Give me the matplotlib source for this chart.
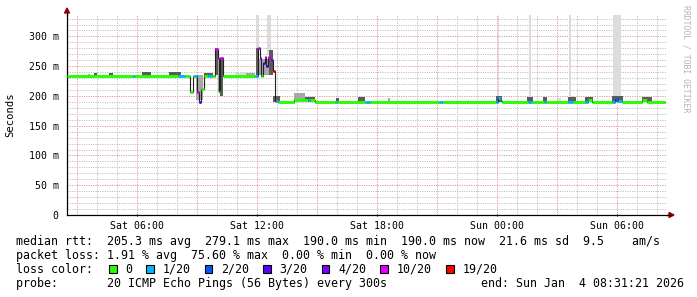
import matplotlib
matplotlib.use("Agg")
import matplotlib.pyplot as plt
from matplotlib.patches import Rectangle, Polygon

# time axis: hours since Sat 00:00 (graph ends Sun 08:31:21)
t_start = 2.522
t_end = 32.522

# median rtt in ms: segment start (h), value, lost pings out of 20
med_t = [2.52, 5.82, 5.92, 8.07, 8.42, 8.67, 8.80, 8.87, 9.03, 9.12, 9.22, 9.35,
         9.59, 9.76, 9.92, 10.05, 10.10, 10.18, 10.32, 11.92, 12.07, 12.15, 12.23,
         12.32, 12.40, 12.48, 12.57, 12.65, 12.73, 12.82, 12.90, 12.98, 13.07,
         13.87, 14.57, 14.67, 14.92, 15.92, 16.02, 17.42, 17.67, 21.12, 21.32,
         23.97, 24.07, 24.20, 24.27, 25.57, 25.75, 26.37, 26.47, 27.57, 27.82,
         28.42, 28.57, 28.77, 29.77, 29.92, 30.08, 30.25, 31.27, 31.50]
med_v = [233, 233, 233, 233, 233, 207, 233, 233, 207, 190, 212, 233,
         233, 233, 279, 263, 206, 263, 233, 233, 280, 264, 233,
         255, 265, 250, 265, 262, 260, 242, 192, 191, 190,
         193, 193, 193, 190, 190, 190, 190, 190, 190, 190,
         190, 196, 192, 190, 190, 190, 190, 190, 190, 190,
         190, 193, 190, 190, 195, 192, 190, 193, 190]
med_loss = [0, 1, 0, 1, 0, 0, 0, 1, 10, 3, 0, 0,
            1, 0, 10, 10, 0, 10, 0, 1, 10, 4, 0,
            3, 10, 3, 10, 10, 4, 19, 10, 1, 0,
            0, 1, 0, 0, 1, 0, 1, 0, 1, 0,
            1, 1, 0, 0, 1, 0, 1, 0, 1, 0,
            1, 0, 0, 1, 2, 1, 0, 0, 0]
med_end = 32.40

# smoke (spread of the 20 pings): (from h, to h, low ms, high ms)
smoke_dark = [(3.87, 4.02, 233, 239), (4.62, 4.82, 233, 239), (5.22, 5.37, 233, 236),
              (6.27, 6.72, 233, 240), (7.62, 8.22, 233, 240), (9.37, 9.82, 233, 238),
              (9.92, 10.07, 236, 280), (10.18, 10.32, 200, 262), (11.97, 12.12, 236, 280),
              (12.62, 12.82, 236, 277), (12.82, 13.17, 190, 200), (14.40, 14.90, 190, 199),
              (15.97, 16.12, 190, 197), (17.07, 17.42, 190, 198), (23.97, 24.27, 190, 200),
              (25.52, 25.82, 190, 198), (26.32, 26.52, 190, 198), (27.57, 27.97, 190, 198),
              (28.42, 28.82, 190, 198), (29.77, 30.32, 190, 200), (31.27, 31.77, 190, 199)]
smoke_mid = [(3.57, 3.67, 233, 237), (8.97, 9.32, 193, 235), (10.07, 10.18, 206, 263),
             (11.47, 11.92, 233, 239), (12.12, 12.62, 236, 262), (13.87, 14.40, 192, 205),
             (18.57, 18.67, 190, 196)]
smoke_light = [(4.32, 4.42, 233, 237), (5.52, 5.67, 233, 236), (10.92, 11.47, 233, 238),
               (11.97, 12.12, 280, 345), (12.52, 12.72, 268, 345), (22.57, 22.62, 190, 194),
               (24.07, 24.12, 200, 345), (25.62, 25.72, 198, 345), (27.07, 27.22, 190, 196),
               (27.62, 27.72, 198, 345), (29.27, 29.32, 190, 194), (29.82, 30.22, 200, 345)]

loss_levels = [0, 1, 2, 3, 4, 10, 19]
loss_labels = ['0', '1/20', '2/20', '3/20', '4/20', '10/20', '19/20']
loss_colors = ['#26ff00', '#00b8ff', '#0059ff', '#5e00ff', '#7e00ff', '#dd00ff', '#ff0000']

x_tick_hours = [6, 12, 18, 24, 30]
x_tick_labels = ['Sat 06:00', 'Sat 12:00', 'Sat 18:00', 'Sun 00:00', 'Sun 06:00']
y_tick_vals = [0, 50, 100, 150, 200, 250, 300]
y_tick_labels = ['0', '50 m', '100 m', '150 m', '200 m', '250 m', '300 m']

line_rtt = 'median rtt:  205.3 ms avg  279.1 ms max  190.0 ms min  190.0 ms now  21.6 ms sd  9.5    am/s'
line_loss = 'packet loss: 1.91 % avg  75.60 % max  0.00 % min  0.00 % now'
line_probe = 'probe:       20 ICMP Echo Pings (56 Bytes) every 300s'
line_end = 'end: Sun Jan  4 08:31:21 2026'

W, H = 697, 297
MONO = 'DejaVu Sans Mono'


def fx(x):
    return x / W


def fy(y):
    return 1 - y / H


def loss_color(n):
    c = loss_colors[0]
    for lv, col in zip(loss_levels, loss_colors):
        if n >= lv:
            c = col
    return c


fig = plt.figure(figsize=(W / 100, H / 100), dpi=100)
fig.patch.set_facecolor('white')
ax = fig.add_axes([fx(67), fy(215), 600 / W, 200 / H])
ax.set_xlim(t_start, t_end)
ax.set_ylim(0, 336)

# grid
grid_minor = '#c2c2c2'
grid_major = '#e39a9a'
for v in range(10, 340, 10):
    if v % 50:
        ax.axhline(v, color=grid_minor, lw=0.7, ls=(0, (1.2, 1.2)), zorder=1)
for v in range(50, 340, 50):
    ax.axhline(v, color=grid_major, lw=0.7, ls=(0, (1.2, 1.2)), zorder=1)
for h in range(3, 33):
    col = grid_major if h % 3 == 0 else grid_minor
    ax.axvline(h, color=col, lw=0.7, ls=(0, (1.2, 1.2)), zorder=1)

# smoke
for data, col in [(smoke_light, '#dcdcdc'), (smoke_mid, '#a8a8a8'), (smoke_dark, '#5c5c5c')]:
    for t0, t1, lo, hi in data:
        ax.bar(t0, hi - lo, bottom=lo, width=t1 - t0, align='edge',
               color=col, linewidth=0, zorder=2)

# median line
ends = med_t[1:] + [med_end]
xs, ys = [], []
for t0, t1, v in zip(med_t, ends, med_v):
    xs += [t0, t1]
    ys += [v, v]
ax.plot(xs, ys, color='#202020', lw=0.8, zorder=3)
ax.hlines(med_v, med_t, ends, colors=[loss_color(n) for n in med_loss],
          lw=2.1, zorder=4, capstyle='butt')

# axes
for s in ['top', 'right']:
    ax.spines[s].set_visible(False)
ax.spines['left'].set_linewidth(0.9)
ax.spines['bottom'].set_linewidth(0.9)
ax.set_xticks(x_tick_hours)
ax.set_xticklabels(x_tick_labels, family=MONO, fontsize=7.1)
ax.set_yticks(y_tick_vals)
ax.set_yticklabels(y_tick_labels, family=MONO, fontsize=7.1)
ax.tick_params(axis='x', length=2, width=0.8, pad=3, direction='inout')
ax.tick_params(axis='y', length=0, pad=6)

# arrows at axis ends
arrow_col = '#990000'
fig.patches.append(Polygon([(fx(64.5), fy(13)), (fx(69.5), fy(13)), (fx(67), fy(8))],
                           closed=True, color=arrow_col, transform=fig.transFigure))
fig.patches.append(Polygon([(fx(669), fy(212.5)), (fx(669), fy(217.5)), (fx(674), fy(215))],
                           closed=True, color=arrow_col, transform=fig.transFigure))
fig.add_artist(plt.Line2D([fx(667), fx(670)], [fy(215), fy(215)], color='black', lw=0.9))
fig.add_artist(plt.Line2D([fx(67), fx(67)], [fy(13), fy(15)], color='black', lw=0.9))

fig.text(fx(10), fy(115), 'Seconds', rotation=90, ha='center', va='center',
         family=MONO, fontsize=7.6)
fig.text(fx(686), fy(5), 'RRDTOOL / TOBI OETIKER', rotation=270, ha='center', va='top',
         family=MONO, fontsize=5.9, color='#b4b4b4')

# legend text
cw = 7.05
x0 = 16
fig.text(fx(x0), fy(245), line_rtt, family=MONO, fontsize=8.4, va='baseline')
fig.text(fx(x0), fy(259), line_loss, family=MONO, fontsize=8.4, va='baseline')
fig.text(fx(x0), fy(273), 'loss color:', family=MONO, fontsize=8.4, va='baseline')
fig.text(fx(x0), fy(287), line_probe, family=MONO, fontsize=8.4, va='baseline')
fig.text(fx(684), fy(287), line_end, family=MONO, fontsize=8.4, va='baseline', ha='right')

col = 13.2
for lab, c in zip(loss_labels, loss_colors):
    bx = x0 + col * cw
    fig.patches.append(Rectangle((fx(bx), fy(273)), 7.5 / W, 8 / H, facecolor=c,
                                 edgecolor='black', lw=0.8, transform=fig.transFigure))
    fig.text(fx(bx + 2.3 * cw), fy(273), lab, family=MONO, fontsize=8.4, va='baseline')
    col += 2.3 + len(lab) + 2

fig.savefig('out.png', dpi=100, facecolor='white')
